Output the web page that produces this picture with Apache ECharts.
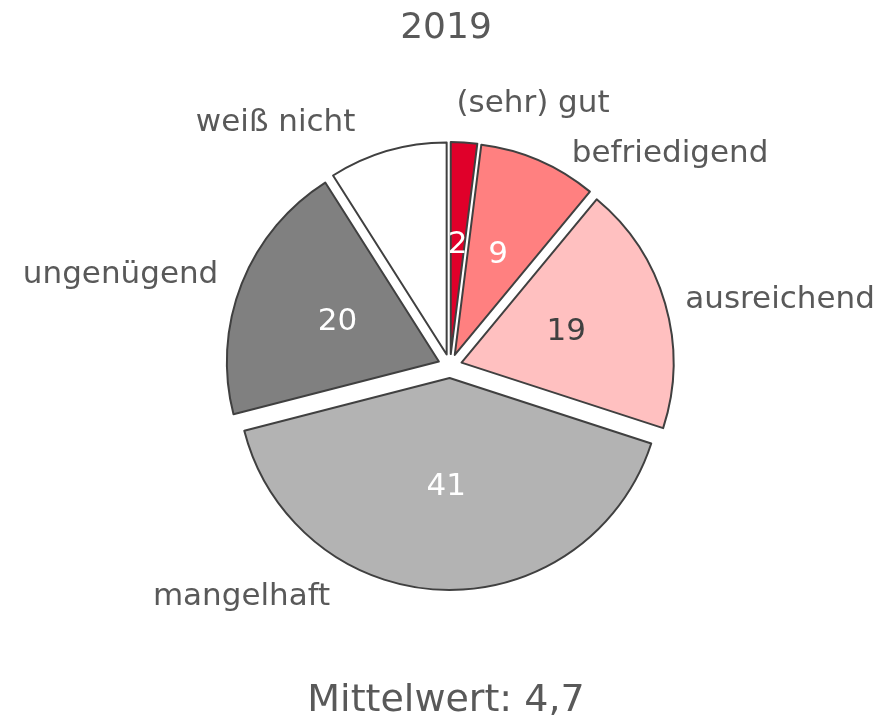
<!DOCTYPE html>
<html>
<head>
    <meta charset="utf-8">
    <script src="https://cdn.jsdelivr.net/npm/echarts@6/dist/echarts.min.js"></script>
    <style>
        html, body { margin: 0; padding: 0; background: #fff; }
    </style>
</head>
<body>
<div id="main" style="width: 892px;height:721px;"></div>

<script type="text/javascript">
    // Daten
    var titel = '2019'
    var mittelwert = 'Mittelwert: 4,7'
    var kategorien = ['(sehr) gut', 'befriedigend', 'ausreichend', 'mangelhaft', 'ungenügend', 'weiß nicht']
    var werte = [2, 9, 19, 41, 20, 9]
    var farben = ['#e0002a', '#ff8080', '#ffc0c0', '#b3b3b3', '#808080', '#ffffff']
    var wertFarben = ['#ffffff', '#ffffff', '#404040', '#ffffff', '#ffffff', '#ffffff']

    var myChart = echarts.init(document.getElementById('main'));

    var font = 'DejaVu Sans'

    var innen = []
    var aussen = []
    for (var i = 0; i < kategorien.length; i++) {
        innen.push({
            name: kategorien[i],
            value: werte[i],
            selected: true,
            itemStyle: { color: farben[i] },
            label: { color: wertFarben[i] }
        })
        aussen.push({
            name: kategorien[i],
            value: werte[i],
            selected: true
        })
    }

    // Feinjustierung der Beschriftungen wie im Excel-Original
    var verschiebung = function (params) {
        var d = [[-18, -17], [-8, 0], [-5, 3], [-103, -15], [6, 0], [-17, -7]][params.dataIndex]
        return { dx: d[0], dy: d[1] }
    }

    var option = {
        animation: false,
        title: [
            {
                text: titel,
                left: 'center',
                top: 6,
                textStyle: { fontFamily: font, fontSize: 36, fontWeight: 'normal', color: '#595959' }
            },
            {
                text: mittelwert,
                left: 'center',
                top: 677,
                textStyle: { fontFamily: font, fontSize: 38, fontWeight: 'normal', color: '#595959' }
            }
        ],
        series: [
            {
                type: 'pie',
                radius: 212,
                center: [450, 366],
                startAngle: 90,
                clockwise: true,
                selectedMode: 'multiple',
                selectedOffset: 12,
                silent: true,
                itemStyle: { borderColor: '#404040', borderWidth: 2 },
                emphasis: { disabled: true },
                select: { itemStyle: { borderColor: '#404040', borderWidth: 2 } },
                label: {
                    show: true,
                    position: 'inside',
                    formatter: '{c}',
                    fontFamily: font,
                    fontSize: 31
                },
                labelLine: { show: false },
                data: innen
            },
            {
                type: 'pie',
                radius: 212,
                center: [450, 366],
                startAngle: 90,
                clockwise: true,
                selectedMode: 'multiple',
                selectedOffset: 12,
                silent: true,
                itemStyle: { color: 'rgba(0,0,0,0)', borderWidth: 0 },
                emphasis: { disabled: true },
                select: { itemStyle: { color: 'rgba(0,0,0,0)', borderWidth: 0 } },
                label: {
                    show: true,
                    position: 'outside',
                    formatter: '{b}',
                    fontFamily: font,
                    fontSize: 31,
                    color: '#595959'
                },
                labelLine: { show: false, length: 22, length2: 4 },
                labelLayout: verschiebung,
                data: aussen
            }
        ]
    };

    myChart.setOption(option);
</script>
</body>
</html>
